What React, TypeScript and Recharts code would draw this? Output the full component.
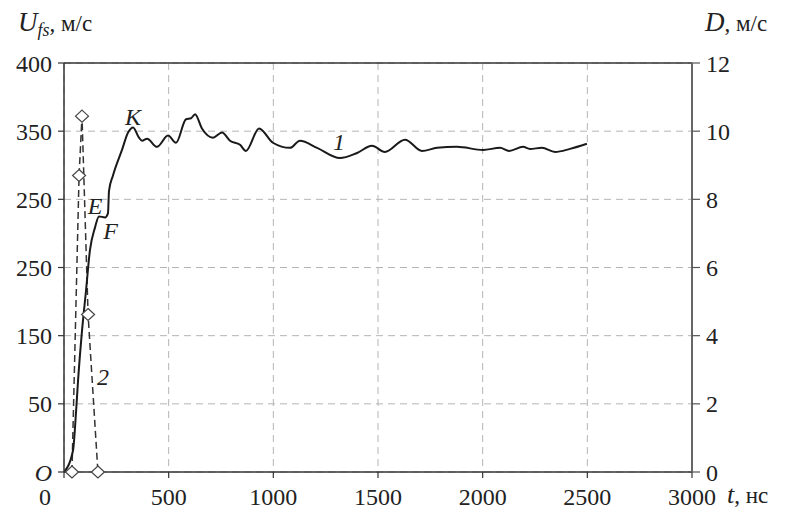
import React from 'react';
import { LineChart, Line, XAxis, YAxis, CartesianGrid, ReferenceLine, ReferenceDot } from 'recharts';

// Curve 1: free-surface velocity U_fs (left axis), time in ns
const timeNs = [0, 43, 57, 67, 86, 105, 124, 148, 167, 196, 210, 215, 234, 277, 306, 330, 358, 373, 397, 444, 497, 535, 583, 607, 626, 659, 712, 755, 793, 841, 869, 932, 998, 1080, 1127, 1209, 1318, 1400, 1471, 1533, 1629, 1710, 1782, 1877, 2002, 2083, 2126, 2193, 2226, 2283, 2346, 2417, 2498];
const velocityU = [0, 21, 57, 89, 138, 177, 217, 239, 250, 249, 253, 275, 290, 315, 332, 337, 327, 324, 326, 318, 329, 322, 345, 346, 350, 336, 327, 332, 324, 320, 314, 336, 322, 317, 324, 317, 307, 312, 319, 313, 325, 314, 317, 318, 315, 317, 314, 318, 316, 317, 313, 316, 321];

// Curve 2: D (right axis)
const dTime = [38, 72, 86, 115, 162];
const dValues = [0, 8.7, 10.44, 4.62, 0];

const xTicks = [0, 500, 1000, 1500, 2000, 2500, 3000];
const leftTickLabels = ['O', '50', '150', '250', '250', '350', '400'];
const leftMax = 400;
const rightTicks = [0, 2, 4, 6, 8, 10, 12];

const annotations = [
  { t: 330, v: 348, text: 'K' },
  { t: 148, v: 261, text: 'E' },
  { t: 222, v: 236, text: 'F' },
  { t: 186, v: 93, text: '2' },
  { t: 1314, v: 323, text: '1' },
];

const curve1 = timeNs.map((t, i) => ({ t, u: velocityU[i] }));
const curve2 = dTime.map((t, i) => ({ t, d: dValues[i] }));
const leftTicks = leftTickLabels.map((_, i) => (i * leftMax) / (leftTickLabels.length - 1));

const FONT = "'Liberation Serif', 'DejaVu Serif', serif";
const TICK_SIZE = 24;
const txt = (size: number, italic = false): React.CSSProperties => ({
  fontFamily: FONT,
  fontSize: size,
  fontStyle: italic ? 'italic' : 'normal',
});

const XTick = (props: any) => {
  const { x, y, payload } = props;
  const shift = payload.value === 0 ? -19 : 0;
  return (
    <text x={x + shift} y={y} dy="0.71em" textAnchor="middle" style={txt(TICK_SIZE)} fill="#222">
      {payload.value}
    </text>
  );
};

const LeftTick = (props: any) => {
  const { x, y, payload } = props;
  const idx = Math.round((payload.value * (leftTickLabels.length - 1)) / leftMax);
  const label = leftTickLabels[idx];
  return (
    <text x={x} y={y} dy="0.355em" textAnchor="end" style={txt(TICK_SIZE, label === 'O')} fill="#222">
      {label}
    </text>
  );
};

const RightTick = (props: any) => {
  const { x, y, payload } = props;
  return (
    <text x={x} y={y} dy="0.355em" textAnchor="start" style={txt(TICK_SIZE)} fill="#222">
      {payload.value}
    </text>
  );
};

const AnnLabel = (props: any) => {
  const { viewBox, text } = props;
  return (
    <text x={viewBox.x} y={viewBox.y} dy="0.35em" textAnchor="middle" style={txt(24, true)} fill="#222">
      {text}
    </text>
  );
};

const Diamond = (p: any) => {
  const { cx, cy } = p;
  if (cx == null || cy == null) return null;
  return (
    <polygon
      points={`${cx},${cy - 6} ${cx + 6.5},${cy} ${cx},${cy + 6} ${cx - 6.5},${cy}`}
      fill="#fff"
      stroke="#444"
      strokeWidth={1.2}
    />
  );
};

export default function App() {
  return (
    <div style={{ position: 'absolute', left: 0, top: 0, width: 791, height: 510, background: '#fff' }}>
      <LineChart width={791} height={510} margin={{ top: 63, right: 0, bottom: 0, left: 0 }}>
        <CartesianGrid yAxisId="left" stroke="#b5b5b5" strokeDasharray="7 5" strokeWidth={1} />
        <XAxis
          dataKey="t"
          type="number"
          domain={[0, 3000]}
          ticks={xTicks}
          allowDataOverflow
          height={38}
          tickSize={6}
          tickMargin={10}
          tick={<XTick />}
          axisLine={{ stroke: '#333', strokeWidth: 1.5 }}
          tickLine={{ stroke: '#333', strokeWidth: 1.2 }}
        />
        <YAxis
          yAxisId="left"
          type="number"
          domain={[0, leftMax]}
          ticks={leftTicks}
          width={64}
          tickSize={6}
          tickMargin={6}
          tick={<LeftTick />}
          axisLine={{ stroke: '#333', strokeWidth: 1.5 }}
          tickLine={{ stroke: '#333', strokeWidth: 1.2 }}
        />
        <YAxis
          yAxisId="right"
          orientation="right"
          type="number"
          domain={[0, 12]}
          ticks={rightTicks}
          width={99}
          tickSize={8}
          tickMargin={6}
          tick={<RightTick />}
          axisLine={{ stroke: '#666', strokeWidth: 2 }}
          tickLine={{ stroke: '#555', strokeWidth: 1.2 }}
        />
        <ReferenceLine yAxisId="left" y={leftMax} stroke="#333" strokeWidth={1.5} />
        <Line
          yAxisId="right"
          data={curve2}
          dataKey="d"
          type="linear"
          stroke="#333"
          strokeWidth={1.5}
          strokeDasharray="7 4"
          dot={(p: any) => <Diamond key={`d-${p.index}`} {...p} />}
          isAnimationActive={false}
        />
        <Line
          yAxisId="left"
          data={curve1}
          dataKey="u"
          type="monotone"
          stroke="#1a1a1a"
          strokeWidth={2}
          dot={false}
          isAnimationActive={false}
        />
        {annotations.map((a) => (
          <ReferenceDot
            key={a.text}
            yAxisId="left"
            x={a.t}
            y={a.v}
            r={0}
            fill="none"
            stroke="none"
            label={<AnnLabel text={a.text} />}
          />
        ))}
      </LineChart>
      <svg width={791} height={510} style={{ position: 'absolute', left: 0, top: 0, pointerEvents: 'none' }}>
        <text x={18} y={31} style={txt(27)} fill="#222">
          <tspan style={txt(27, true)}>U</tspan>
          <tspan style={txt(18, true)} dy={5}>fs</tspan>
          <tspan style={txt(23)} dy={-5}>, м/с</tspan>
        </text>
        <text x={705} y={31} style={txt(27)} fill="#222">
          <tspan style={txt(27, true)}>D</tspan>
          <tspan style={txt(23)}>, м/с</tspan>
        </text>
        <text x={727} y={503} style={txt(26)} fill="#222">
          <tspan style={txt(26, true)}>t</tspan>
          <tspan style={txt(23)}>, нс</tspan>
        </text>
      </svg>
    </div>
  );
}
